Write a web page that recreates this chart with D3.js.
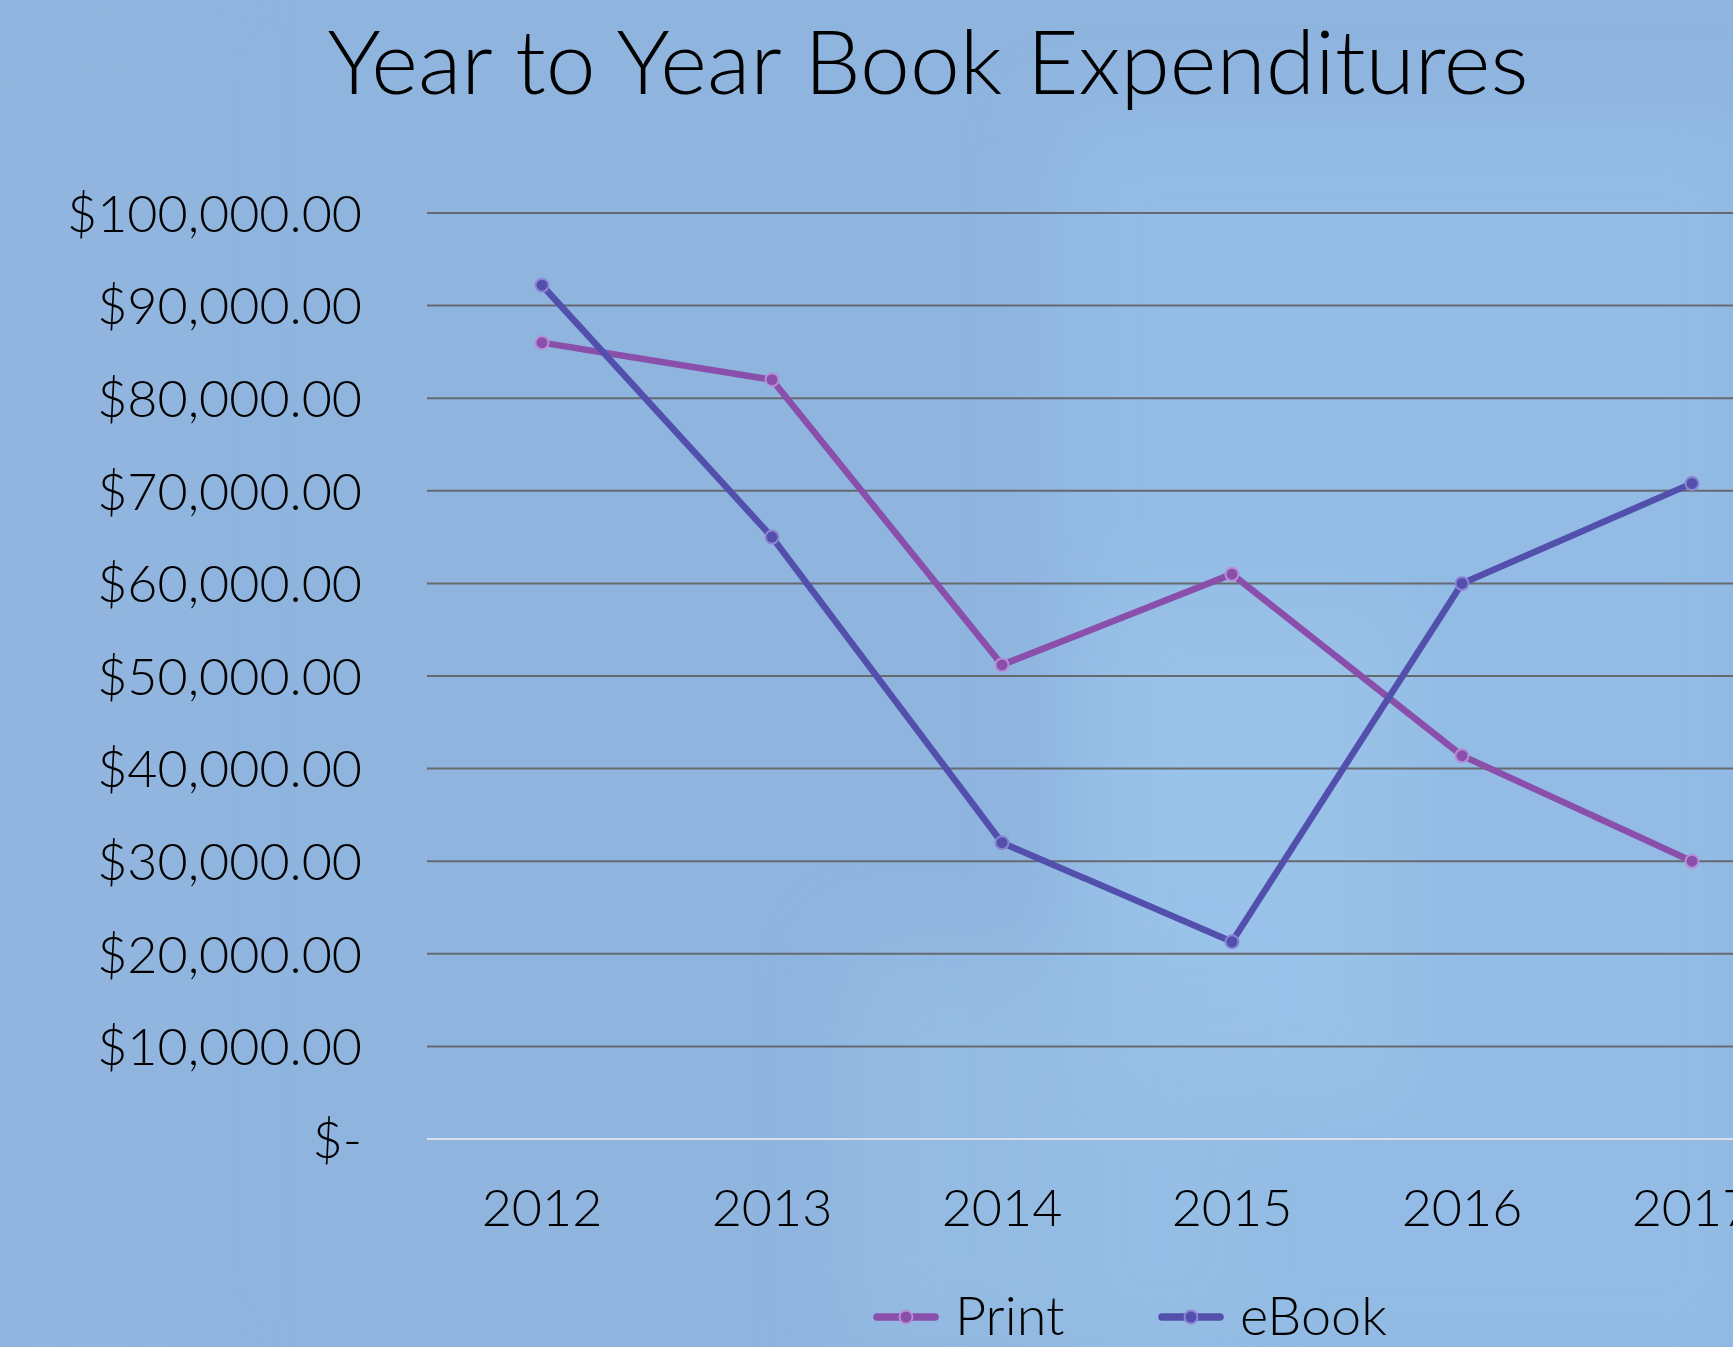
<!DOCTYPE html>
<html lang="en">
<head>
    <title>Year to Year Book Expenditures</title>
    <script src="https://d3js.org/d3.v7.min.js"></script>
    <style>
        body { margin: 0; background: #8fb5df; }
        svg text { font-family: "Century Gothic", Lato, sans-serif; font-weight: 300; fill: #000; }
    </style>
</head>
<body>
    <svg id="chart"></svg>

    <script>
        var years = ["2012", "2013", "2014", "2015", "2016", "2017"];
        var printValues = [86000, 82000, 51200, 61000, 41400, 30000];
        var ebookValues = [92200, 65000, 32000, 21300, 60000, 70800];
        var yTicks = [0, 10000, 20000, 30000, 40000, 50000, 60000, 70000, 80000, 90000, 100000];
        var seriesNames = ["Print", "eBook"];

        var width = 1733;
        var height = 1347;
        var plot = { left: 427, right: 1807, top: 213, bottom: 1139 };
        var colors = { Print: "#8a4fab", eBook: "#5350ad" };
        var rims = { Print: "#b68fd6", eBook: "#8c86d4" };

        var svg = d3.select("#chart")
            .attr("width", width)
            .attr("height", height);

        // soft blurred background
        var defs = svg.append("defs");
        defs.append("filter").attr("id", "blur")
            .attr("x", "-50%").attr("y", "-50%").attr("width", "200%").attr("height", "200%")
            .append("feGaussianBlur").attr("stdDeviation", 40);
        svg.append("rect").attr("width", width).attr("height", height).attr("fill", "#8fb5df");
        var patches = svg.append("g").attr("filter", "url(#blur)");
        patches.append("rect").attr("x", 1060).attr("y", 120).attr("width", 700).attr("height", 1250)
            .attr("fill", "#94bde6").attr("opacity", 0.8);
        patches.append("rect").attr("x", 1100).attr("y", 600).attr("width", 300).attr("height", 500)
            .attr("fill", "#9cc4ea").attr("opacity", 0.7);
        patches.append("rect").attr("x", 0).attr("y", 0).attr("width", 200).attr("height", 1347)
            .attr("fill", "#93b6e0").attr("opacity", 0.6);
        patches.append("rect").attr("x", 850).attr("y", 950).attr("width", 400).attr("height", 400)
            .attr("fill", "#98bfe4").attr("opacity", 0.6);

        var x = d3.scalePoint()
            .domain(years)
            .range([plot.left, plot.right])
            .padding(0.5);
        var y = d3.scaleLinear()
            .domain([0, 100000])
            .range([plot.bottom, plot.top]);

        // title
        var title = svg.append("text")
            .attr("x", 928)
            .attr("y", 94)
            .attr("text-anchor", "middle")
            .style("font-size", "80px")
            .text("Year to Year Book Expenditures");
        var tw = title.node().getComputedTextLength();
        title.style("font-size", (80 * 1201 / tw) + "px");

        // gridlines
        svg.append("g")
            .selectAll("line")
            .data(yTicks)
            .enter()
            .append("line")
            .attr("x1", plot.left)
            .attr("x2", width)
            .attr("y1", function (d) { return y(d); })
            .attr("y2", function (d) { return y(d); })
            .attr("stroke", function (d) { return d === 0 ? "#d9dee8" : "#666a70"; })
            .attr("stroke-width", 2);

        // y axis labels
        var money = d3.format(",.2f");
        svg.append("g")
            .selectAll("text")
            .data(yTicks)
            .enter()
            .append("text")
            .attr("x", 362)
            .attr("y", function (d) { return y(d); })
            .attr("dy", "0.36em")
            .attr("text-anchor", "end")
            .style("font-size", "52px")
            .text(function (d) { return d === 0 ? "$-" : "$" + money(d); });

        // x axis labels
        svg.append("g")
            .selectAll("text")
            .data(years)
            .enter()
            .append("text")
            .attr("x", function (d) { return x(d); })
            .attr("y", 1226)
            .attr("text-anchor", "middle")
            .style("font-size", "52px")
            .text(function (d) { return d; });

        // series
        var series = [
            { name: "Print", values: printValues },
            { name: "eBook", values: ebookValues }
        ];
        var line = d3.line()
            .x(function (d, i) { return x(years[i]); })
            .y(function (d) { return y(d); });

        series.forEach(function (s) {
            svg.append("path")
                .datum(s.values)
                .attr("d", line)
                .attr("fill", "none")
                .attr("stroke", colors[s.name])
                .attr("stroke-width", 6.5)
                .attr("stroke-linejoin", "round");
        });
        series.forEach(function (s) {
            svg.append("g")
                .selectAll("circle")
                .data(s.values)
                .enter()
                .append("circle")
                .attr("cx", function (d, i) { return x(years[i]); })
                .attr("cy", function (d) { return y(d); })
                .attr("r", 6.5)
                .attr("fill", colors[s.name])
                .attr("stroke", rims[s.name])
                .attr("stroke-width", 2);
        });

        // legend
        var legendX = [877, 1162];
        var legend = svg.append("g")
            .selectAll("g")
            .data(seriesNames)
            .enter()
            .append("g")
            .attr("transform", function (d, i) { return "translate(" + legendX[i] + ",1317)"; });
        legend.append("line")
            .attr("x1", 0).attr("x2", 58)
            .attr("stroke", function (d) { return colors[d]; })
            .attr("stroke-width", 7.5)
            .attr("stroke-linecap", "round");
        legend.append("circle")
            .attr("cx", 29).attr("r", 6.5)
            .attr("fill", function (d) { return colors[d]; })
            .attr("stroke", function (d) { return rims[d]; })
            .attr("stroke-width", 2);
        legend.append("text")
            .attr("x", 78)
            .attr("y", 18)
            .style("font-size", "54px")
            .text(function (d) { return d; });
    </script>
</body>
</html>
